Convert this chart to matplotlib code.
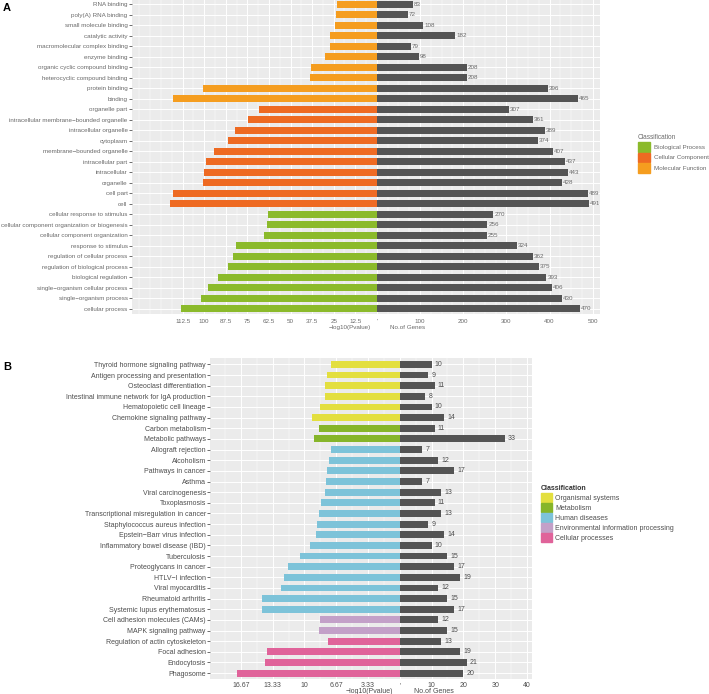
import numpy as np
import matplotlib
matplotlib.use('Agg')
import matplotlib.pyplot as plt
from matplotlib.patches import Patch
from matplotlib.transforms import blended_transform_factory

plt.rcParams['font.family'] = ['Liberation Sans', 'DejaVu Sans']

# ---------------- panel A: GO terms (listed top to bottom) ----------------
go_terms = ['RNA binding', 'poly(A) RNA binding', 'small molecule binding', 'catalytic activity',
            'macromolecular complex binding', 'enzyme binding', 'organic cyclic compound binding',
            'heterocyclic compound binding', 'protein binding', 'binding',
            'organelle part', 'intracellular membrane\u2212bounded organelle', 'intracellular organelle',
            'cytoplasm', 'membrane\u2212bounded organelle', 'intracellular part', 'intracellular',
            'organelle', 'cell part', 'cell',
            'cellular response to stimulus', 'cellular component organization or biogenesis',
            'cellular component organization', 'response to stimulus', 'regulation of cellular process',
            'regulation of biological process', 'biological regulation',
            'single\u2212organism cellular process', 'single\u2212organism process', 'cellular process']
go_class = (['Molecular Function'] * 10 + ['Cellular Component'] * 10 + ['Biological Process'] * 10)
go_logp = [22.9, 23.6, 24.2, 27.1, 27.1, 29.8, 38.2, 39.0, 100.9, 117.8,
           68.5, 74.7, 82.3, 86.2, 94.6, 99.0, 100.0, 100.6, 118.0, 119.7,
           62.8, 63.7, 65.1, 81.4, 83.3, 86.4, 92.3, 97.7, 101.7, 113.4]
go_genes = [83, 72, 108, 182, 79, 98, 208, 208, 396, 465,
            307, 361, 389, 374, 407, 437, 443, 428, 489, 491,
            270, 256, 255, 324, 362, 375, 393, 406, 430, 470]
go_levels = ['Biological Process', 'Cellular Component', 'Molecular Function']
go_colors = ['#8BBA2B', '#EE6A22', '#F59D1F']
go_left_ticks = [112.5, 100, 87.5, 75, 62.5, 50, 37.5, 25, 12.5]
go_right_ticks = [100, 200, 300, 400, 500]

# ---------------- panel B: KEGG pathways (listed top to bottom) ----------------
kegg_terms = ['Thyroid hormone signaling pathway', 'Antigen processing and presentation',
              'Osteoclast differentiation', 'Intestinal immune network for IgA production',
              'Hematopoietic cell lineage', 'Chemokine signaling pathway',
              'Carbon metabolism', 'Metabolic pathways',
              'Allograft rejection', 'Alcoholism', 'Pathways in cancer', 'Asthma',
              'Viral carcinogenesis', 'Toxoplasmosis', 'Transcriptional misregulation in cancer',
              'Staphylococcus aureus infection', 'Epstein\u2212Barr virus infection',
              'Inflammatory bowel disease (IBD)', 'Tuberculosis', 'Proteoglycans in cancer',
              'HTLV\u2212I infection', 'Viral myocarditis', 'Rheumatoid arthritis',
              'Systemic lupus erythematosus',
              'Cell adhesion molecules (CAMs)', 'MAPK signaling pathway',
              'Regulation of actin cytoskeleton', 'Focal adhesion', 'Endocytosis', 'Phagosome']
kegg_class = (['Organismal systems'] * 6 + ['Metabolism'] * 2 + ['Human diseases'] * 16
              + ['Environmental information processing'] * 2 + ['Cellular processes'] * 4)
kegg_logp = [7.22, 7.64, 7.81, 7.85, 8.33, 9.2, 8.47, 8.96,
             7.22, 7.47, 7.6, 7.74, 7.81, 8.26, 8.44, 8.68, 8.78,
             9.41, 10.49, 11.74, 12.19, 12.5, 14.4, 14.45,
             8.4, 8.5, 7.57, 13.96, 14.17, 17.1]
kegg_genes = [10, 9, 11, 8, 10, 14, 11, 33, 7, 12, 17, 7, 13, 11, 13, 9, 14, 10,
              15, 17, 19, 12, 15, 17, 12, 15, 13, 19, 21, 20]
kegg_levels = ['Organismal systems', 'Metabolism', 'Human diseases',
               'Environmental information processing', 'Cellular processes']
kegg_colors = ['#E3DF3F', '#86B52A', '#7DC3D9', '#C3A0C8', '#E0639A']
kegg_left_ticks = [50 / 3, 40 / 3, 10, 20 / 3, 10 / 3]
kegg_left_labels = ['16.67', '13.33', '10', '6.67', '3.33']
kegg_right_ticks = [10, 20, 30, 40]

GRAY_BAR = '#545454'


def draw_panel(ax, terms, classes, logp, genes, levels, colors, scale,
               left_breaks, right_breaks, minor_step, xlim, fs, lab_col, offset):
    cmap = dict(zip(levels, colors))
    y = np.arange(len(terms))
    ax.set_facecolor('#EBEBEB')
    # -log10(P) goes to the left, multiplied so it shares the gene-count axis
    ax.barh(y, -np.array(logp) * scale, height=0.65, color=[cmap[c] for c in classes], zorder=2)
    ax.barh(y, genes, height=0.65, color=GRAY_BAR, zorder=2)
    for yi, g in zip(y, genes):
        ax.text(g + offset, yi, str(g), va='center', ha='left', fontsize=fs, color=lab_col)

    majors = [-b * scale for b in left_breaks] + [0] + list(right_breaks)
    ax.set_xticks(majors)
    ax.set_xticklabels([''] * len(majors))
    ax.set_xticks(np.arange(xlim[0] - xlim[0] % minor_step, xlim[1], minor_step), minor=True)
    ax.set_yticks(y)
    ax.set_yticklabels(terms, fontsize=fs, color=lab_col)
    ax.grid(which='major', color='white', lw=0.7, zorder=0)
    ax.grid(which='minor', axis='x', color='white', lw=0.35, zorder=0)
    ax.set_axisbelow(True)
    for s in ax.spines.values():
        s.set_visible(False)
    ax.tick_params(axis='y', length=2, width=0.5, color='#333333', pad=1)
    ax.tick_params(axis='x', which='both', length=0)
    ax.set_xlim(*xlim)
    ax.set_ylim(len(terms) - 0.45, -0.6)
    return majors


fig = plt.figure(figsize=(7.09, 6.94), dpi=100)
W, H = 709.0, 694.0

# ---- panel A ----
axA = fig.add_axes([131.7 / W, 1 - 314.4 / H, (600 - 131.7) / W, 316.4 / H])
mA = draw_panel(axA, go_terms, go_class, go_logp, go_genes, go_levels, go_colors, 4,
                go_left_ticks, go_right_ticks, 25, (-568, 517), 4.5, '#6A6A6A', 2)
lA = [str(b) for b in go_left_ticks] + ["'"] + [str(b) for b in go_right_ticks]
trA = blended_transform_factory(axA.transData, axA.transAxes)
for x, l in zip(mA, lA):
    axA.text(x, -0.013, l, ha='center', va='top', fontsize=4.5, color='#6A6A6A', transform=trA)
axA.text(-62, -0.033, '\u2212log10(Pvalue)', ha='center', va='top', fontsize=4.5, color='#6A6A6A', transform=trA)
axA.text(70, -0.033, 'No.of Genes', ha='center', va='top', fontsize=4.5, color='#6A6A6A', transform=trA)

legA = fig.legend(handles=[Patch(color=c, label=l) for l, c in zip(go_levels, go_colors)],
                  title='Classification', loc='upper left', bbox_to_anchor=(638 / W, 1 - 134 / H),
                  frameon=False, fontsize=4.5, title_fontproperties={'size': 4.7},
                  handlelength=1.9, handleheight=2.0, labelspacing=0.15, handletextpad=0.6,
                  borderpad=0, borderaxespad=0)
legA._legend_box.align = 'left'
for t in legA.get_texts():
    t.set_color('#6A6A6A')
legA.get_title().set_color('#6A6A6A')

# ---- panel B ----
axB = fig.add_axes([210 / W, 1 - 679 / H, (531.7 - 210) / W, 321 / H])
mB = draw_panel(axB, kegg_terms, kegg_class, kegg_logp, kegg_genes, kegg_levels, kegg_colors, 3,
                kegg_left_ticks, kegg_right_ticks, 5, (-59.7, 41.5), 5, '#4D4D4D', 1)
lB = kegg_left_labels + ["'"] + [str(b) for b in kegg_right_ticks]
trB = blended_transform_factory(axB.transData, axB.transAxes)
for x, l in zip(mB, lB):
    axB.text(x, -0.01, l, ha='center', va='top', fontsize=5, color='#4D4D4D', transform=trB)
axB.text(-9.6, -0.028, '\u2212log10(Pvalue)', ha='center', va='top', fontsize=5, color='#4D4D4D', transform=trB)
axB.text(10.7, -0.028, 'No.of Genes', ha='center', va='top', fontsize=5, color='#4D4D4D', transform=trB)

legB = fig.legend(handles=[Patch(color=c, label=l) for l, c in zip(kegg_levels, kegg_colors)],
                  title='Classification', loc='upper left', bbox_to_anchor=(541 / W, 1 - 485 / H),
                  frameon=False, fontsize=5, title_fontproperties={'size': 5, 'weight': 'bold'},
                  handlelength=1.65, handleheight=1.6, labelspacing=0.15, handletextpad=0.35,
                  borderpad=0, borderaxespad=0)
legB._legend_box.align = 'left'
for t in legB.get_texts():
    t.set_color('#4D4D4D')
legB.get_title().set_color('#333333')

fig.text(3 / W, 1 - 3 / H, 'A', fontsize=8, fontweight='bold', va='top', ha='left')
fig.text(3 / W, 1 - 362 / H, 'B', fontsize=8, fontweight='bold', va='top', ha='left')

fig.savefig('out.png', dpi=100)
